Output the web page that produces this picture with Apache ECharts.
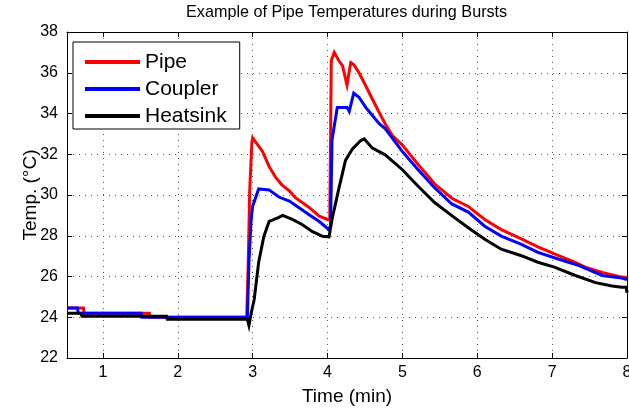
<!DOCTYPE html>
<html>
<head>
<meta charset="utf-8">
<script src="https://cdn.jsdelivr.net/npm/echarts@6/dist/echarts.min.js"></script>
<style>html,body{margin:0;padding:0;background:#fff}#c{width:629px;height:410px}</style>
</head>
<body>
<div id="c"></div>
<script>
const titleText = 'Example of Pipe Temperatures during Bursts';
const xName = 'Time (min)';
const yName = 'Temp. (\u00B0C)';
const seriesNames = ['Pipe', 'Coupler', 'Heatsink'];
const xTicks = [1, 2, 3, 4, 5, 6, 7, 8];
const xMin = 0.52, xMax = 8;
const yMin = 22, yMax = 38, yStep = 2;

const pipe = [[0.52,24.45],[0.74,24.45],[0.75,24.2],[1.62,24.2],[1.63,24.0],[2.92,24.0],[2.94,26.5],[2.96,30.2],[2.99,32.6],[3.0,32.8],[3.06,32.5],[3.13,32.15],[3.22,31.4],[3.31,30.85],[3.39,30.5],[3.49,30.2],[3.57,29.87],[3.75,29.4],[3.89,28.96],[4.0,28.8],[4.03,28.8],[4.05,36.6],[4.09,37.0],[4.15,36.6],[4.2,36.35],[4.26,35.4],[4.31,36.5],[4.35,36.4],[4.42,36.0],[4.51,35.36],[4.6,34.7],[4.69,34.05],[4.77,33.5],[4.87,32.9],[5.0,32.45],[5.21,31.5],[5.43,30.55],[5.66,29.84],[5.88,29.44],[6.1,28.8],[6.32,28.3],[6.59,27.85],[6.81,27.45],[7.08,27.04],[7.3,26.7],[7.45,26.45],[7.67,26.2],[7.93,25.97],[8.0,25.95]];

const coupler = [[0.52,24.45],[0.66,24.45],[0.67,24.2],[1.51,24.2],[1.52,24.0],[2.93,24.0],[2.95,26.7],[2.98,28.8],[3.0,29.45],[3.08,30.3],[3.22,30.25],[3.35,29.9],[3.49,29.7],[3.62,29.37],[3.75,29.04],[3.89,28.7],[4.02,28.3],[4.04,28.5],[4.06,32.7],[4.13,34.3],[4.26,34.3],[4.29,34.1],[4.35,35.0],[4.42,34.8],[4.51,34.3],[4.6,33.9],[4.69,33.5],[4.77,33.26],[5.0,32.13],[5.21,31.24],[5.43,30.36],[5.66,29.56],[5.88,29.16],[6.1,28.47],[6.32,27.98],[6.59,27.58],[6.81,27.18],[7.08,26.86],[7.35,26.55],[7.67,26.05],[7.93,25.92],[8.0,25.85]];

const heatsink = [[0.52,24.2],[0.7,24.2],[0.72,24.05],[1.85,24.05],[1.86,23.9],[2.93,23.9],[2.95,23.6],[2.98,24.2],[3.02,24.86],[3.08,26.7],[3.15,27.98],[3.22,28.7],[3.35,28.9],[3.4,29.0],[3.53,28.8],[3.66,28.55],[3.8,28.2],[3.93,27.98],[4.02,27.95],[4.06,28.8],[4.15,30.3],[4.24,31.7],[4.33,32.25],[4.44,32.66],[4.49,32.75],[4.6,32.3],[4.77,31.97],[5.0,31.24],[5.21,30.43],[5.43,29.63],[5.66,28.99],[5.88,28.39],[6.1,27.83],[6.32,27.34],[6.59,27.02],[6.81,26.7],[7.03,26.46],[7.31,26.05],[7.58,25.7],[7.8,25.53],[7.93,25.47],[7.99,25.47],[8.0,25.2]];

const colors = ['#ff0000', '#0000ff', '#000000'];
const FONT = '"Liberation Sans", Arial, Helvetica, sans-serif';

const chart = echarts.init(document.getElementById('c'), null, {renderer: 'canvas'});
const gridLine = {show: true, lineStyle: {color: '#555', type: [1, 5], width: 1}};
const axLine = {show: true, lineStyle: {color: '#000', width: 1}};

chart.setOption({
  animation: false,
  backgroundColor: '#fff',
  title: {text: titleText, left: 186, top: 5, padding: 0, textStyle: {fontFamily: FONT, fontSize: 16.2, fontWeight: 'normal', color: '#000'}},
  legend: {
    data: seriesNames, orient: 'vertical', left: 73, top: 42,
    padding: [8, 13, 1, 12], itemGap: 3, itemWidth: 55, itemHeight: 4, icon: 'rect',
    borderColor: '#000', borderWidth: 1, backgroundColor: '#fff',
    textStyle: {fontFamily: FONT, fontSize: 21, color: '#000', lineHeight: 24}
  },
  grid: {left: 67, right: 2, top: 32, bottom: 52, containLabel: false, outerBoundsMode: 'none'},
  xAxis: [{
    type: 'value', min: xMin, max: xMax, position: 'bottom',
    name: xName, nameLocation: 'middle', nameGap: 29, nameMoveOverlap: false,
    nameTextStyle: {fontFamily: FONT, fontSize: 19, color: '#000'},
    axisLine: axLine,
    axisTick: {show: true, inside: true, length: 5, customValues: xTicks, lineStyle: {color: '#000'}},
    axisLabel: {customValues: xTicks, margin: 7, fontFamily: FONT, fontSize: 16, color: '#000', hideOverlap: false},
    splitLine: gridLine
  }, {
    type: 'value', min: xMin, max: xMax, position: 'top',
    axisLine: axLine,
    axisTick: {show: true, inside: true, length: 5, customValues: xTicks, lineStyle: {color: '#000'}},
    axisLabel: {show: false}, splitLine: {show: false}
  }],
  yAxis: [{
    type: 'value', min: yMin, max: yMax, interval: yStep, position: 'left',
    name: yName, nameLocation: 'middle', nameGap: 27, nameMoveOverlap: false,
    nameTextStyle: {fontFamily: FONT, fontSize: 19, color: '#000'},
    axisLine: axLine,
    axisTick: {show: true, inside: true, length: 5, lineStyle: {color: '#000'}},
    axisLabel: {margin: 9, fontFamily: FONT, fontSize: 16, color: '#000'},
    splitLine: gridLine
  }, {
    type: 'value', min: yMin, max: yMax, interval: yStep, position: 'right',
    axisLine: axLine,
    axisTick: {show: true, inside: true, length: 5, lineStyle: {color: '#000'}},
    axisLabel: {show: false}, splitLine: {show: false}
  }],
  series: [pipe, coupler, heatsink].map((d, i) => ({
    name: seriesNames[i], type: 'line', data: d, xAxisIndex: 0, yAxisIndex: 0,
    showSymbol: false, symbol: 'none', color: colors[i],
    lineStyle: {width: 3, color: colors[i], join: 'miter'}, z: 3 + i
  }))
});
</script>
</body>
</html>
